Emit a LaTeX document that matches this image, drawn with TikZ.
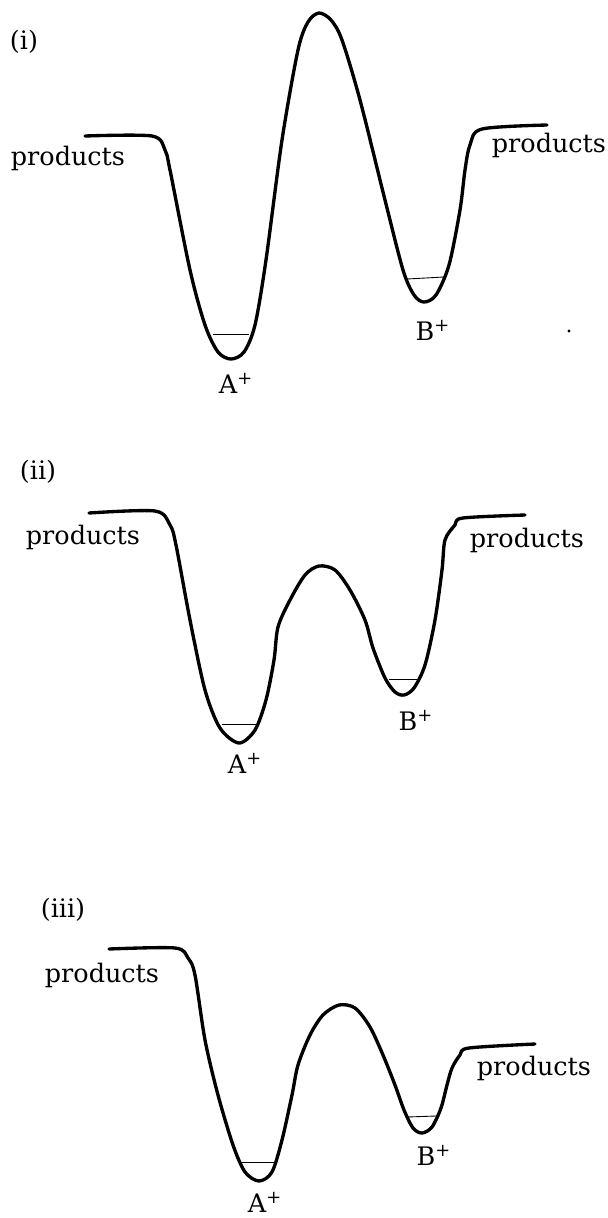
\documentclass[tikz,border=0pt]{standalone}
\usepackage{fontspec}
\setmainfont{DejaVu Serif}
\usetikzlibrary{positioning,calc}
\definecolor{ink}{HTML}{000000}
\tikzset{
  % potentialytor
  pes/.style={draw=ink,line width=1.9pt,line join=round,line cap=round},
  lvl/.style={draw=ink,line width=0.5pt},
  % texter
  lbl/.style={font=\fontsize{14.5}{17}\selectfont,inner sep=0pt,text=ink},
  pnl/.style={font=\fontsize{14.5}{17}\selectfont,inner sep=0pt,text=ink},
}

\begin{document}
\begin{tikzpicture}[x=0.02cm,y=-0.02cm]
  \useasboundingbox (0,0) rectangle (608,1218);
  % (i)
  \node[pnl] (p1) at (24,42) {(i)};
  \draw[pes] plot[smooth,tension=0.5] coordinates {(85,136) (152,136) (165,150)
    (170,170) (190,270) (205,325) (218,352) (231,359) (244,352) (255,325)
    (266,260) (282,140) (298,50) (308,22) (319,13) (331,20) (342,40)
    (360,100) (385,200) (403,270) (414,295) (424,302) (436,295) (449,265)
    (460,210) (465,170) (470,145) (482,129) (547,125)};
  \draw[lvl] (213,334) -- (249,334);
  \draw[lvl] (407,279) -- (444,277);
  \node[lbl] (l1) at (68,158) {products};
  \node[lbl] (r1) at (549,145) {products};
  \node[lbl] (a1) at (236,383) {A\textsuperscript{+}};
  \node[lbl] (b1) at (433,330) {B\textsuperscript{+}};
  \fill[ink] (569,331) circle[radius=1.7];
  % (ii)
  \node[pnl] (p2) at (38,472) {(ii)};
  \draw[pes] plot[smooth,tension=0.5] coordinates {(89,513) (155,511) (170,525)
    (176,545) (190,620) (205,690) (220,728) (239,743) (255,730) (266,700)
    (274,660) (278,627) (290,600) (305,575) (319,566) (335,570) (350,590)
    (365,620) (373,648) (385,678) (395,692) (404,695) (414,688) (425,665)
    (435,620) (442,570) (445,540) (455,525) (463,518) (525,515)};
  \draw[lvl] (222,724) -- (257,724);
  \draw[lvl] (389,679) -- (420,679);
  \node[lbl] (l2) at (83,537) {products};
  \node[lbl] (r2) at (527,540) {products};
  \node[lbl] (a2) at (245,763) {A\textsuperscript{+}};
  \node[lbl] (b2) at (416,720) {B\textsuperscript{+}};
  % (iii)
  \node[pnl] (p3) at (63,910) {(iii)};
  \draw[pes] plot[smooth,tension=0.5] coordinates {(109,949) (175,948) (188,958)
    (195,975) (205,1040) (218,1095) (233,1145) (245,1172) (259,1181)
    (272,1172) (282,1140) (292,1095) (298,1065) (310,1035) (323,1015)
    (339,1005) (355,1008) (370,1027) (383,1055) (395,1085) (404,1110)
    (413,1128) (422,1133) (432,1127) (441,1108) (447,1085) (452,1068)
    (460,1055) (469,1048) (535,1044)};
  \draw[lvl] (241,1162) -- (276,1162);
  \draw[lvl] (407,1117) -- (436,1116);
  \node[lbl] (l3) at (102,975) {products};
  \node[lbl] (r3) at (534,1068) {products};
  \node[lbl] (a3) at (265,1202) {A\textsuperscript{+}};
  \node[lbl] (b3) at (434,1155) {B\textsuperscript{+}};
\end{tikzpicture}
\end{document}
